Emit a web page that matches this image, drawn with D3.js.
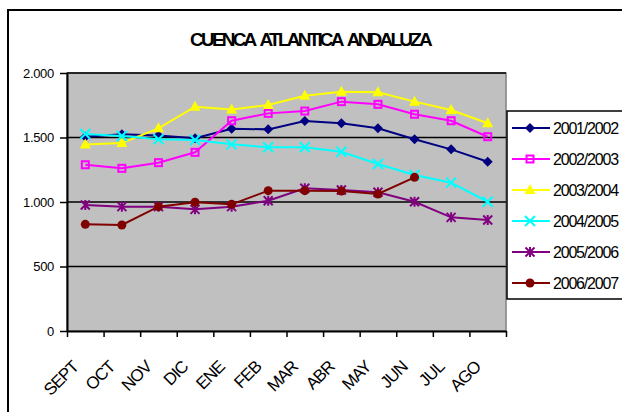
<!DOCTYPE html>
<html lang="es">
<head>
<meta charset="utf-8">
<title>Cuenca Atlantica Andaluza</title>
<style>
    body { margin: 0; background: #fff; }
    svg { display: block; font-family: "Liberation Sans", Arial, sans-serif; }
    .title { font-size: 19px; font-weight: bold; letter-spacing: -2.8px; word-spacing: 4px; }
    .ylab { font-size: 13px; letter-spacing: -0.3px; }
    .xlab { font-size: 17px; letter-spacing: -1px; }
    .leg { font-size: 16px; letter-spacing: -1.2px; }
</style>
</head>
<body>
<svg id="chart" width="622" height="412"></svg>
<script src="https://cdn.jsdelivr.net/npm/d3@7"></script>
<script>
// meses del año hidrológico
var months = ['SEPT','OCT','NOV','DIC','ENE','FEB','MAR','ABR','MAY','JUN','JUL','AGO'];
var yTicks = [0, 500, 1000, 1500, 2000];

// volumen embalsado por campaña (hm3)
var s2001 = [1505, 1525, 1515, 1495, 1568, 1563, 1628, 1610, 1571, 1486, 1408, 1312];
var s2002 = [1289, 1261, 1305, 1385, 1630, 1687, 1705, 1778, 1757, 1680, 1630, 1506];
var s2003 = [1445, 1458, 1571, 1739, 1718, 1752, 1824, 1855, 1850, 1778, 1713, 1610];
var s2004 = [1527, 1512, 1486, 1481, 1447, 1424, 1424, 1390, 1295, 1209, 1150, 1002];
var s2005 = [977, 964, 964, 943, 964, 1010, 1106, 1093, 1075, 1002, 881, 860];
var s2006 = [827, 822, 964, 998, 982, 1088, 1088, 1085, 1062, 1191, null, null];

var series = [
    {name: '2001/2002', values: s2001, color: '#000080', marker: 'diamond'},
    {name: '2002/2003', values: s2002, color: '#ff00ff', marker: 'square'},
    {name: '2003/2004', values: s2003, color: '#ffff00', marker: 'triangle'},
    {name: '2004/2005', values: s2004, color: '#00ffff', marker: 'cross'},
    {name: '2005/2006', values: s2005, color: '#800080', marker: 'star'},
    {name: '2006/2007', values: s2006, color: '#800000', marker: 'circle'}
];

var svg = d3.select('#chart');
var plot = {left: 67, right: 506, top: 73, bottom: 331};

var x = d3.scaleBand().domain(months).range([plot.left, plot.right]);
var xi = d3.scaleLinear().domain([0, months.length]).range([plot.left, plot.right]);
var y = d3.scaleLinear().domain([0, 2000]).range([plot.bottom, plot.top]);

var es = d3.formatLocale({decimal: ',', thousands: '.', grouping: [3], currency: ['', '']});
var fmt = es.format(',');

// marco exterior
svg.append('rect')
    .attr('x', 8).attr('y', 10)
    .attr('width', 640).attr('height', 430)
    .attr('fill', '#fff').attr('stroke', '#000').attr('stroke-width', 2);

svg.append('text')
    .attr('class', 'title')
    .attr('x', 310).attr('y', 46)
    .attr('text-anchor', 'middle')
    .text('CUENCA ATLANTICA ANDALUZA');

// area de trazado
svg.append('rect')
    .attr('x', plot.left).attr('y', plot.top)
    .attr('width', plot.right - plot.left).attr('height', plot.bottom - plot.top)
    .attr('fill', '#c0c0c0').attr('stroke', '#808080').attr('stroke-width', 1.5);

// lineas de division
svg.append('g')
    .selectAll('line')
    .data(yTicks.filter(function(d) { return d > 0; }))
    .enter().append('line')
    .attr('x1', plot.left).attr('x2', plot.right)
    .attr('y1', function(d) { return y(d); })
    .attr('y2', function(d) { return y(d); })
    .attr('stroke', '#000').attr('stroke-width', 1.5);

// eje y
var gy = svg.append('g')
    .attr('transform', 'translate(' + plot.left + ',0)')
    .call(d3.axisLeft(y).tickValues(yTicks).tickFormat(fmt).tickSize(7).tickSizeOuter(0).tickPadding(6));
gy.select('.domain').attr('stroke', '#000').attr('stroke-width', 2);
gy.selectAll('.tick line').attr('stroke', '#000').attr('stroke-width', 1.5);
gy.selectAll('.tick text').attr('class', 'ylab').attr('font-size', null).attr('font-family', null).attr('fill', '#000');

// eje x
var gx = svg.append('g')
    .attr('transform', 'translate(0,' + plot.bottom + ')')
    .call(d3.axisBottom(xi).tickValues(d3.range(months.length + 1)).tickFormat('').tickSize(6).tickSizeOuter(0));
gx.select('.domain').attr('stroke', '#000').attr('stroke-width', 2);
gx.selectAll('.tick line').attr('stroke', '#000').attr('stroke-width', 1.5);

svg.append('g')
    .selectAll('text')
    .data(months)
    .enter().append('text')
    .attr('class', 'xlab')
    .attr('text-anchor', 'end')
    .attr('transform', function(d) {
        return 'translate(' + (x(d) + x.bandwidth() / 2 - 6) + ',' + 368 + ') rotate(-45)';
    })
    .text(function(d) { return d; });

// marcadores
function drawMarker(g, type, color) {
    if (type === 'diamond') {
        g.append('path').attr('d', 'M0,-5L5,0L0,5L-5,0Z').attr('fill', color);
    } else if (type === 'square') {
        g.append('rect').attr('x', -3.5).attr('y', -3.5).attr('width', 7).attr('height', 7)
            .attr('fill', 'none').attr('stroke', color).attr('stroke-width', 2);
    } else if (type === 'triangle') {
        g.append('path').attr('d', 'M0,-6L5.5,4L-5.5,4Z').attr('fill', color);
    } else if (type === 'cross') {
        g.append('path').attr('d', 'M-5,-5L5,5M-5,5L5,-5').attr('stroke', color).attr('stroke-width', 2);
    } else if (type === 'star') {
        g.append('path').attr('d', 'M-4.5,-4.5L4.5,4.5M-4.5,4.5L4.5,-4.5M0,-5L0,5').attr('stroke', color).attr('stroke-width', 2);
    } else if (type === 'circle') {
        g.append('circle').attr('r', 4.5).attr('fill', color);
    }
}

var line = d3.line()
    .defined(function(d) { return d != null; })
    .x(function(d, i) { return x(months[i]) + x.bandwidth() / 2; })
    .y(function(d) { return y(d); });

series.forEach(function(s) {
    var g = svg.append('g');
    g.append('path')
        .attr('d', line(s.values))
        .attr('fill', 'none')
        .attr('stroke', s.color)
        .attr('stroke-width', 2);
    s.values.forEach(function(v, i) {
        if (v == null) return;
        var m = g.append('g')
            .attr('transform', 'translate(' + (x(months[i]) + x.bandwidth() / 2) + ',' + y(v) + ')');
        drawMarker(m, s.marker, s.color);
    });
});

// leyenda
var legend = svg.append('g');
legend.append('rect')
    .attr('x', 507).attr('y', 111)
    .attr('width', 130).attr('height', 188)
    .attr('fill', '#fff').attr('stroke', '#000').attr('stroke-width', 1.5);

var items = legend.selectAll('.item')
    .data(series)
    .enter().append('g')
    .attr('class', 'item')
    .attr('transform', function(d, i) { return 'translate(0,' + (128 + i * 31) + ')'; });

items.append('line')
    .attr('x1', 512).attr('x2', 550)
    .attr('stroke', function(d) { return d.color; })
    .attr('stroke-width', 2);

items.each(function(d) {
    var m = d3.select(this).append('g').attr('transform', 'translate(530,0)');
    drawMarker(m, d.marker, d.color);
});

items.append('text')
    .attr('class', 'leg')
    .attr('x', 553).attr('y', 6)
    .text(function(d) { return d.name; });
</script>
</body>
</html>
